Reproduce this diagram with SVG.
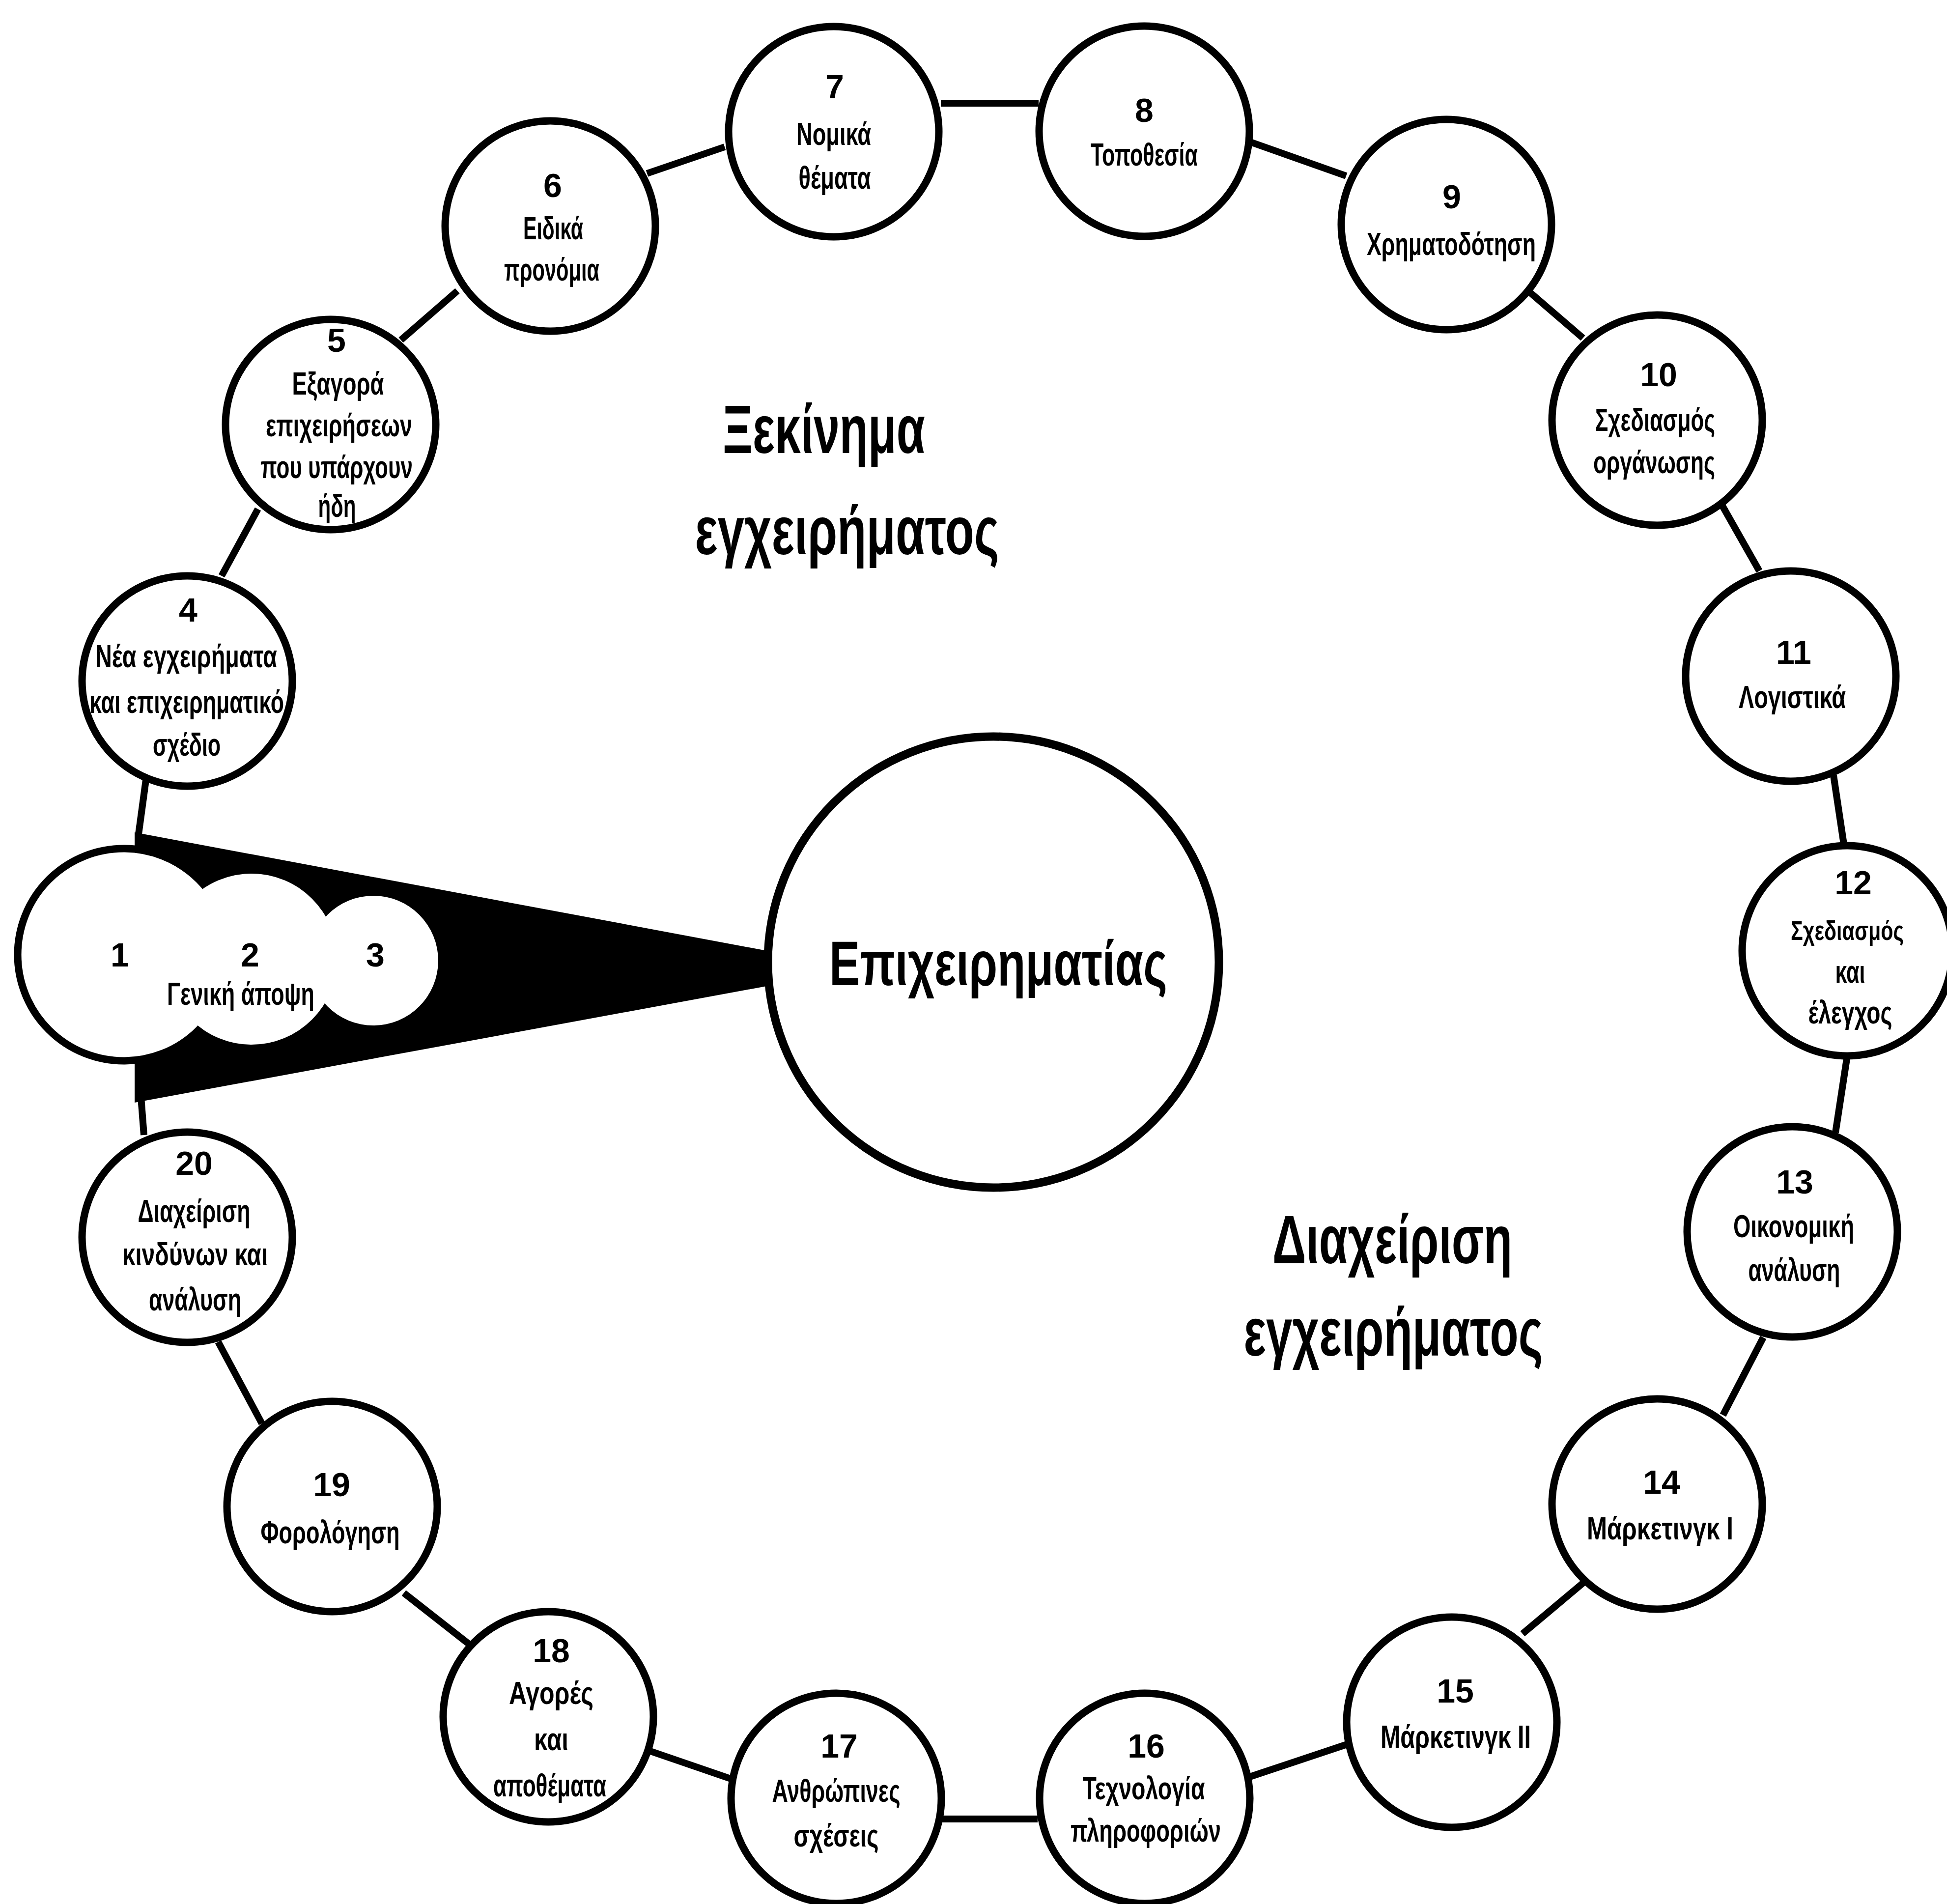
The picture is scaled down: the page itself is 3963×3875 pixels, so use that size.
<svg xmlns="http://www.w3.org/2000/svg" width="3963" height="3875" viewBox="0 0 3963 3875">
<style>
.node circle{fill:#fff;stroke:#000;stroke-width:15}
.conn line{stroke:#000;stroke-width:14;stroke-linecap:butt}
text{font-family:"Liberation Sans",Arial,sans-serif;font-weight:bold;fill:#000;text-anchor:middle}
.t{font-size:64px}
.n{font-size:68px}
.title{font-size:140px}
.ctr{font-size:128px}
</style>
<rect width="3963" height="3875" fill="#fff"/>
<g id="connectors" class="conn">
<line x1="298" y1="1580" x2="281" y2="1705"/>
<line x1="451" y1="1172" x2="525" y2="1036"/>
<line x1="816" y1="692" x2="931" y2="592"/>
<line x1="1317" y1="353" x2="1475" y2="299"/>
<line x1="1915" y1="210" x2="2114" y2="210"/>
<line x1="2545" y1="289" x2="2740" y2="358"/>
<line x1="3114" y1="595" x2="3222" y2="688"/>
<line x1="3505" y1="1028" x2="3581" y2="1162"/>
<line x1="3732" y1="1578" x2="3753" y2="1718"/>
<line x1="3759" y1="2155" x2="3736" y2="2305"/>
<line x1="3589" y1="2722" x2="3507" y2="2880"/>
<line x1="3223" y1="3221" x2="3099" y2="3325"/>
<line x1="2745" y1="3549" x2="2541" y2="3617"/>
<line x1="2112" y1="3702" x2="1917" y2="3702"/>
<line x1="1487" y1="3620" x2="1324" y2="3564"/>
<line x1="961" y1="3351" x2="822" y2="3242"/>
<line x1="533" y1="2897" x2="444" y2="2731"/>
<line x1="293" y1="2310" x2="286" y2="2220"/>
<polygon id="wedge" points="274,1694 1620,1946 1620,1996 274,2244" fill="#000"/>
</g>
<g id="general" class="node">
<circle cx="252" cy="1943" r="216"/>
<circle cx="512" cy="1952" r="174" style="stroke:none"/>
<circle cx="760" cy="1955" r="132" style="stroke:none"/>
<text class="n" x="244" y="1967">1</text>
<text class="n" x="509" y="1967">2</text>
<text class="n" x="764" y="1967">3</text>
<text class="t" x="490" y="2045" textLength="300" lengthAdjust="spacingAndGlyphs">Γενική άποψη</text>
</g>
<g id="entrepreneur" class="node">
<circle cx="2022" cy="1958" r="459" style="stroke-width:17"/>
<text class="ctr" x="2032" y="2005" textLength="688" lengthAdjust="spacingAndGlyphs">Επιχειρηματίας</text>
</g>
<g id="n4" class="node">
<circle cx="381" cy="1386" r="214"/>
<text class="n" x="383" y="1265">4</text>
<text class="t" x="379" y="1358" textLength="370" lengthAdjust="spacingAndGlyphs">Νέα εγχειρήματα</text>
<text class="t" x="380" y="1451" textLength="396" lengthAdjust="spacingAndGlyphs">και επιχειρηματικό</text>
<text class="t" x="380" y="1538" textLength="138" lengthAdjust="spacingAndGlyphs">σχέδιο</text>
</g>
<g id="n5" class="node">
<circle cx="673" cy="864" r="214"/>
<text class="n" x="685" y="716">5</text>
<text class="t" x="688" y="803" textLength="187" lengthAdjust="spacingAndGlyphs">Εξαγορά</text>
<text class="t" x="690" y="888" textLength="298" lengthAdjust="spacingAndGlyphs">επιχειρήσεων</text>
<text class="t" x="685" y="973" textLength="310" lengthAdjust="spacingAndGlyphs">που υπάρχουν</text>
<text class="t" x="686" y="1052" textLength="77" lengthAdjust="spacingAndGlyphs">ήδη</text>
</g>
<g id="n6" class="node">
<circle cx="1120" cy="460" r="214"/>
<text class="n" x="1125" y="401">6</text>
<text class="t" x="1126" y="487" textLength="122" lengthAdjust="spacingAndGlyphs">Ειδικά</text>
<text class="t" x="1123" y="571" textLength="194" lengthAdjust="spacingAndGlyphs">προνόμια</text>
</g>
<g id="n7" class="node">
<circle cx="1697" cy="268" r="214"/>
<text class="n" x="1699" y="200">7</text>
<text class="t" x="1697" y="295" textLength="152" lengthAdjust="spacingAndGlyphs">Νομικά</text>
<text class="t" x="1699" y="384" textLength="147" lengthAdjust="spacingAndGlyphs">θέματα</text>
</g>
<g id="n8" class="node">
<circle cx="2329" cy="267" r="214"/>
<text class="n" x="2329" y="248">8</text>
<text class="t" x="2329" y="337" textLength="218" lengthAdjust="spacingAndGlyphs">Τοποθεσία</text>
</g>
<g id="n9" class="node">
<circle cx="2944" cy="457" r="214"/>
<text class="n" x="2955" y="424">9</text>
<text class="t" x="2954" y="519" textLength="344" lengthAdjust="spacingAndGlyphs">Χρηματοδότηση</text>
</g>
<g id="n10" class="node">
<circle cx="3373" cy="855" r="214"/>
<text class="n" x="3376" y="786">10</text>
<text class="t" x="3369" y="877" textLength="244" lengthAdjust="spacingAndGlyphs">Σχεδιασμός</text>
<text class="t" x="3367" y="963" textLength="248" lengthAdjust="spacingAndGlyphs">οργάνωσης</text>
</g>
<g id="n11" class="node">
<circle cx="3645" cy="1376" r="214"/>
<text class="n" x="3651" y="1351">11</text>
<text class="t" x="3648" y="1441" textLength="218" lengthAdjust="spacingAndGlyphs">Λογιστικά</text>
</g>
<g id="n12" class="node">
<circle cx="3760" cy="1935" r="214"/>
<text class="n" x="3772" y="1820">12</text>
<text x="3760" y="1913" style="font-size:56px" textLength="230" lengthAdjust="spacingAndGlyphs">Σχεδιασμός</text>
<text class="t" x="3766" y="2000" textLength="61" lengthAdjust="spacingAndGlyphs">και</text>
<text class="t" x="3766" y="2083" textLength="171" lengthAdjust="spacingAndGlyphs">έλεγχος</text>
</g>
<g id="n13" class="node">
<circle cx="3648" cy="2507" r="214"/>
<text class="n" x="3653" y="2429">13</text>
<text class="t" x="3651" y="2518" textLength="246" lengthAdjust="spacingAndGlyphs">Οικονομική</text>
<text class="t" x="3652" y="2607" textLength="187" lengthAdjust="spacingAndGlyphs">ανάλυση</text>
</g>
<g id="n14" class="node">
<circle cx="3373" cy="3061" r="214"/>
<text class="n" x="3382" y="3040">14</text>
<text class="t" x="3379" y="3133" textLength="298" lengthAdjust="spacingAndGlyphs">Μάρκετινγκ Ι</text>
</g>
<g id="n15" class="node">
<circle cx="2955" cy="3505" r="214"/>
<text class="n" x="2962" y="3465">15</text>
<text class="t" x="2963" y="3557" textLength="306" lengthAdjust="spacingAndGlyphs">Μάρκετινγκ ΙΙ</text>
</g>
<g id="n16" class="node">
<circle cx="2330" cy="3660" r="214"/>
<text class="n" x="2333" y="3577">16</text>
<text class="t" x="2328" y="3662" textLength="249" lengthAdjust="spacingAndGlyphs">Τεχνολογία</text>
<text class="t" x="2332" y="3748" textLength="306" lengthAdjust="spacingAndGlyphs">πληροφοριών</text>
</g>
<g id="n17" class="node">
<circle cx="1702" cy="3660" r="214"/>
<text class="n" x="1708" y="3577">17</text>
<text class="t" x="1702" y="3667" textLength="261" lengthAdjust="spacingAndGlyphs">Ανθρώπινες</text>
<text class="t" x="1702" y="3758" textLength="173" lengthAdjust="spacingAndGlyphs">σχέσεις</text>
</g>
<g id="n18" class="node">
<circle cx="1116" cy="3494" r="214"/>
<text class="n" x="1122" y="3383">18</text>
<text class="t" x="1122" y="3468" textLength="172" lengthAdjust="spacingAndGlyphs">Αγορές</text>
<text class="t" x="1122" y="3562" textLength="70" lengthAdjust="spacingAndGlyphs">και</text>
<text class="t" x="1119" y="3656" textLength="230" lengthAdjust="spacingAndGlyphs">αποθέματα</text>
</g>
<g id="n19" class="node">
<circle cx="676" cy="3066" r="214"/>
<text class="n" x="675" y="3045">19</text>
<text class="t" x="672" y="3141" textLength="283" lengthAdjust="spacingAndGlyphs">Φορολόγηση</text>
</g>
<g id="n20" class="node">
<circle cx="381" cy="2518" r="214"/>
<text class="n" x="395" y="2391">20</text>
<text class="t" x="395" y="2487" textLength="229" lengthAdjust="spacingAndGlyphs">Διαχείριση</text>
<text class="t" x="397" y="2575" textLength="296" lengthAdjust="spacingAndGlyphs">κινδύνων και</text>
<text class="t" x="397" y="2667" textLength="188" lengthAdjust="spacingAndGlyphs">ανάλυση</text>
</g>
<g id="titles">
<text class="title" x="1677" y="922" textLength="412" lengthAdjust="spacingAndGlyphs">Ξεκίνημα</text>
<text class="title" x="1724" y="1128" textLength="619" lengthAdjust="spacingAndGlyphs">εγχειρήματος</text>
<text class="title" x="2834" y="2571" textLength="488" lengthAdjust="spacingAndGlyphs">Διαχείριση</text>
<text class="title" x="2836" y="2759" textLength="609" lengthAdjust="spacingAndGlyphs">εγχειρήματος</text>
</g>
</svg>
